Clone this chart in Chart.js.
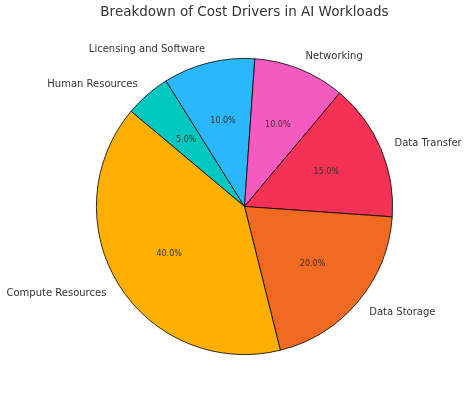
<!DOCTYPE html>
<html>
<head>
<meta charset="utf-8">
<script src="https://cdn.jsdelivr.net/npm/chart.js@4/dist/chart.umd.min.js"></script>
<style>
html,body{margin:0;padding:0;background:#fff;}
#wrap{width:468px;height:399px;position:relative;}
</style>
</head>
<body>
<div id="wrap"><canvas id="c" width="468" height="399"></canvas></div>
<script>
// Data (listed in clockwise drawing order, starting at the upper-left)
const categories = ["Human Resources", "Licensing and Software", "Networking", "Data Transfer", "Data Storage", "Compute Resources"];
const values = [5, 10, 10, 15, 20, 40];
const colors = ["#00C8C0", "#2AB7FB", "#F55AC0", "#F53255", "#F06A22", "#FEB000"];
const chartTitle = "Breakdown of Cost Drivers in AI Workloads";

const labelPlugin = {
  id: 'pieLabels',
  afterDraw(chart) {
    const ctx = chart.ctx;
    const meta = chart.getDatasetMeta(0);
    const total = values.reduce((a, b) => a + b, 0);
    ctx.save();
    meta.data.forEach((arc, i) => {
      const p = arc.getProps(['x', 'y', 'startAngle', 'endAngle', 'outerRadius'], true);
      const mid = (p.startAngle + p.endAngle) / 2;
      const cx = Math.cos(mid), cy = Math.sin(mid);
      // percentage
      ctx.fillStyle = '#333333';
      ctx.font = '8px "DejaVu Sans"';
      ctx.textAlign = 'center';
      ctx.textBaseline = 'middle';
      ctx.fillText((values[i] / total * 100).toFixed(1) + '%', p.x + cx * p.outerRadius * 0.6, p.y + cy * p.outerRadius * 0.6 + 0.5);
      // category label
      ctx.font = '10px "DejaVu Sans"';
      ctx.textAlign = cx >= 0 ? 'left' : 'right';
      ctx.fillText(categories[i], p.x + cx * p.outerRadius * 1.1, p.y + cy * p.outerRadius * 1.1 + 1);
    });
    // title
    ctx.font = '13.5px "DejaVu Sans"';
    ctx.textAlign = 'center';
    ctx.textBaseline = 'middle';
    ctx.fillStyle = '#333333';
    ctx.fillText(chartTitle, meta.data[0].x, 12.5);
    ctx.restore();
  }
};

new Chart(document.getElementById('c'), {
  type: 'pie',
  data: {
    labels: categories,
    datasets: [{
      data: values,
      backgroundColor: colors,
      borderColor: '#000000',
      borderWidth: 0.8,
      borderJoinStyle: 'miter'
    }]
  },
  options: {
    responsive: false,
    animation: false,
    rotation: -50,
    layout: { padding: { top: 58, bottom: 44, left: 96, right: 75 } },
    plugins: {
      legend: { display: false },
      title: { display: false },
      tooltip: { enabled: false }
    }
  },
  plugins: [labelPlugin]
});
</script>
</body>
</html>
